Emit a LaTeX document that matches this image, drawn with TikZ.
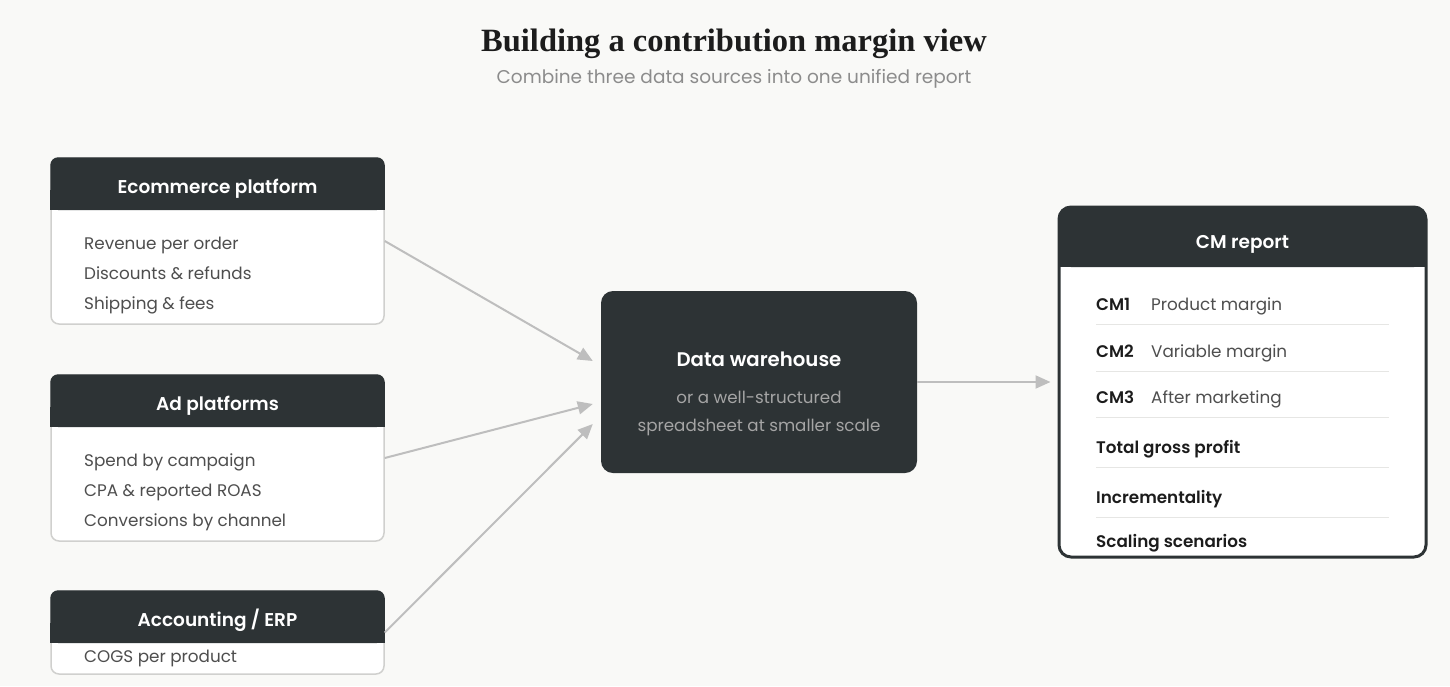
\documentclass[tikz,border=0pt]{standalone}
\usepackage{fontspec}
\setmainfont{Poppins}[BoldFont={* SemiBold}]
\newfontfamily\titlefont{Liberation Serif}
\usepackage{xcolor}
\usepackage{tikz}
\usetikzlibrary{arrows.meta, positioning, calc}
\definecolor{cmbg}{RGB}{249, 249, 247}
\definecolor{cmdark}{RGB}{45, 51, 53}
\definecolor{cmline}{RGB}{208, 208, 206}
\definecolor{cmtext}{RGB}{78, 78, 78}
\definecolor{cmink}{RGB}{28, 28, 28}
\definecolor{cmsub}{RGB}{140, 140, 140}
\definecolor{cmsoft}{RGB}{165, 165, 165}
\definecolor{cmarrow}{RGB}{190, 190, 190}
\definecolor{cmsep}{RGB}{230, 230, 228}
\tikzset{
  srcbox/.style={draw=cmline, line width=1.5pt, fill=white,
    rounded corners=8pt, minimum width=333pt, inner sep=0pt},
  hdrtext/.style={font=\fontsize{18.5}{22}\selectfont\bfseries, text=white},
  item/.style={anchor=base west, inner sep=0pt,
    font=\fontsize{16.8}{20}\selectfont, text=cmtext},
  rowkey/.style={anchor=base west, inner sep=0pt,
    font=\fontsize{16.8}{20}\selectfont\bfseries, text=cmink},
  feed/.style={draw=cmarrow, line width=2pt,
    -{Triangle[length=15pt, width=13pt]}},
  rowsep/.style={draw=cmsep, line width=1pt},
}

\begin{document}
\begin{tikzpicture}[x=1pt, y=-1pt]

  % --- canvas ---
  \fill[cmbg] (0,0) rectangle (1450,686);
  \useasboundingbox (0,0) rectangle (1450,686);

  % --- title ---
  \node[font=\titlefont\fontsize{32.5}{38}\selectfont\bfseries, text=cmink]
    (title) at (734,44) {Building a contribution margin view};
  \node[font=\fontsize{18.5}{22}\selectfont, text=cmsub]
    (subtitle) at (734,79) {Combine three data sources into one unified report};

  % --- source: ecommerce platform ---
  \node[srcbox, minimum height=166pt] (eco) at (217.5,241) {};
  \fill[cmdark, rounded corners=8pt] (50.25,157.25) rectangle (384.75,210);
  \fill[cmdark] (50.25,190) rectangle (384.75,210);
  \node[hdrtext] (eco-h) at (217.5,188.5) {Ecommerce platform};
  \node[item] (eco-1) at (84,249) {Revenue per order};
  \node[item] (eco-2) at (84,279) {Discounts \& refunds};
  \node[item] (eco-3) at (84,309) {Shipping \& fees};

  % --- source: ad platforms ---
  \node[srcbox, minimum height=166pt] (ad) at (217.5,458) {};
  \fill[cmdark, rounded corners=8pt] (50.25,374.25) rectangle (384.75,427);
  \fill[cmdark] (50.25,407) rectangle (384.75,427);
  \node[hdrtext] (ad-h) at (217.5,405.5) {Ad platforms};
  \node[item] (ad-1) at (84,466) {Spend by campaign};
  \node[item] (ad-2) at (84,496) {CPA \& reported ROAS};
  \node[item] (ad-3) at (84,526) {Conversions by channel};

  % --- source: accounting ---
  \node[srcbox, minimum height=83pt] (acc) at (217.5,632.5) {};
  \fill[cmdark, rounded corners=8pt] (50.25,590.25) rectangle (384.75,643);
  \fill[cmdark] (50.25,623) rectangle (384.75,643);
  \node[hdrtext] (acc-h) at (217.5,620.5) {Accounting / ERP};
  \node[item] (acc-1) at (84,662) {COGS per product};

  % --- data warehouse ---
  \node[fill=cmdark, rounded corners=12pt, minimum width=316pt,
    minimum height=182pt] (dw) at (759,382) {};
  \node[font=\fontsize{19.7}{23}\selectfont\bfseries, text=white]
    (dw-h) at (759,359.5) {Data warehouse};
  \node[font=\fontsize{16.7}{20}\selectfont, text=cmsoft]
    (dw-1) at (759,397.5) {or a well-structured};
  \node[font=\fontsize{16.7}{20}\selectfont, text=cmsoft]
    (dw-2) at (759,427.5) {spreadsheet at smaller scale};

  % --- CM report ---
  \node[draw=cmdark, line width=3pt, fill=white, rounded corners=12pt,
    minimum width=367pt, minimum height=350pt] (cm) at (1242.5,382) {};
  \fill[cmdark, rounded corners=12pt] (1059,207) rectangle (1426,267);
  \fill[cmdark] (1059,240) rectangle (1426,267);
  \node[hdrtext] (cm-h) at (1242.5,244.5) {CM report};

  \node[rowkey] (cm1) at (1096,310) {CM1};
  \node[item] (cm1-t) at (1151,310) {Product margin};
  \draw[rowsep] (1096,324) -- (1389,324);
  \node[rowkey] (cm2) at (1096,357) {CM2};
  \node[item] (cm2-t) at (1151,357) {Variable margin};
  \draw[rowsep] (1096,371) -- (1389,371);
  \node[rowkey] (cm3) at (1096,403) {CM3};
  \node[item] (cm3-t) at (1151,403) {After marketing};
  \draw[rowsep] (1096,417) -- (1389,417);
  \node[rowkey] (gp) at (1096,453) {Total gross profit};
  \draw[rowsep] (1096,467) -- (1389,467);
  \node[rowkey] (inc) at (1096,503) {Incrementality};
  \draw[rowsep] (1096,517) -- (1389,517);
  \node[rowkey] (scen) at (1096,547) {Scaling scenarios};

  % --- feeds into the warehouse ---
  \coordinate (in1) at ([xshift=-8pt, yshift=21pt]dw.west);
  \coordinate (in2) at ([xshift=-8pt, yshift=-22pt]dw.west);
  \coordinate (in3) at ([xshift=-8pt, yshift=-42pt]dw.west);
  \draw[feed] (eco.east) -- (in1);
  \draw[feed] (ad.east) -- (in2);
  \draw[feed] (acc.east) -- (in3);

  % --- warehouse to report ---
  \draw[feed, shorten >=7pt] (dw.east) -- (cm.west);

\end{tikzpicture}
\end{document}
